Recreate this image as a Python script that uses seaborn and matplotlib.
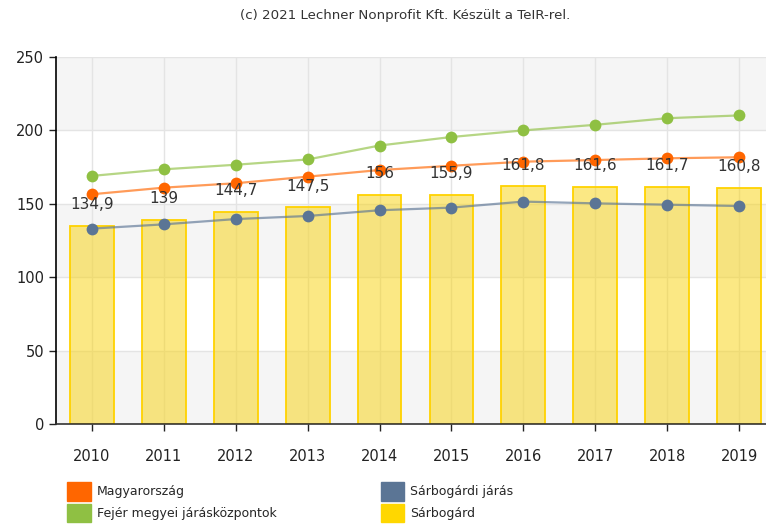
import seaborn as sns
import pandas as pd
import matplotlib.pyplot as plt
from matplotlib.colors import to_rgba
from matplotlib.patches import Patch

years = ["2010", "2011", "2012", "2013", "2014", "2015", "2016", "2017", "2018", "2019"]
sarbogard = [134.9, 139, 144.7, 147.5, 156, 155.9, 161.8, 161.6, 161.7, 160.8]
magyarorszag = [156.5, 161.0, 164.0, 168.5, 173.0, 175.9, 178.7, 179.8, 181.0, 181.7]
fejer = [169.0, 173.5, 176.6, 180.2, 189.7, 195.5, 200.0, 203.8, 208.3, 210.2]
sarbogardi_jaras = [133.1, 136.0, 139.6, 141.7, 145.6, 147.4, 151.5, 150.3, 149.4, 148.5]

series_names = ["Magyarország", "Fejér megyei járásközpontok", "Sárbogárdi járás", "Sárbogárd"]
colors = {"Magyarország": "#ff6600", "Fejér megyei járásközpontok": "#8fc043",
          "Sárbogárdi járás": "#5b7595", "Sárbogárd": "#ffd700"}


def build_frames():
    bars = pd.DataFrame({"year": years, "value": sarbogard})
    lines = pd.DataFrame({
        "pos": list(range(len(years))) * 3,
        "value": magyarorszag + fejer + sarbogardi_jaras,
        "series": (["Magyarország"] * len(years) + ["Fejér megyei járásközpontok"] * len(years)
                   + ["Sárbogárdi járás"] * len(years)),
    })
    return bars, lines


def draw(bars, lines):
    sns.set_style("white")
    plt.rcParams["font.family"] = ["DejaVu Sans"]
    fig = plt.figure(figsize=(7.66, 5.32), dpi=100)
    ax = fig.add_axes([56 / 766, 108 / 532, 710 / 766, 367 / 532])

    # alternating background bands
    for lo in (0, 100, 200):
        ax.axhspan(lo, lo + 50, color="#f5f5f5", zorder=0, lw=0)
    for y in range(50, 251, 50):
        ax.axhline(y, color="#e4e4e4", lw=1, zorder=0.5)
    for i in range(len(years)):
        ax.axvline(i, color="#e4e4e4", lw=1, zorder=0.5)

    sns.barplot(data=bars, x="year", y="value", color="#f8d414",
                saturation=1, width=0.61, linewidth=1.3, ax=ax, zorder=2)
    # translucent fill, solid yellow outline
    for p in ax.containers[0]:
        p.set_alpha(None)
        p.set_facecolor(to_rgba("#f8d414", 0.52))
        p.set_edgecolor("#ffd200")
    for p, v in zip(ax.containers[0], sarbogard):
        ax.annotate(f"{v:g}".replace(".", ","), (p.get_x() + p.get_width() / 2, p.get_height()),
                    xytext=(0, 10), textcoords="offset points", ha="center", va="bottom",
                    fontsize=11, color="#333333", zorder=5)

    for name in series_names[:3]:
        sub = lines[lines["series"] == name]
        sns.lineplot(data=sub, x="pos", y="value", color=colors[name], lw=1.6, alpha=0.65,
                     ax=ax, zorder=3)
        ax.scatter(sub["pos"], sub["value"], s=72, color=colors[name], zorder=4, lw=0)

    ax.set_xlim(-0.5, -0.5 + 710 / 71.9)
    ax.set_ylim(0, 250)
    ax.set_yticks(range(0, 251, 50))
    ax.set_xticks(range(len(years)))
    ax.set_xticklabels(years)
    ax.set_xlabel("")
    ax.set_ylabel("")
    ax.tick_params(axis="both", labelsize=10.5, colors="#222222", length=5, width=1,
                   direction="out", left=True, bottom=True)
    ax.tick_params(axis="x", pad=13)
    for s in ("top", "right"):
        ax.spines[s].set_visible(False)
    ax.spines["left"].set_color("#000000")
    ax.spines["bottom"].set_color("#333333")
    ax.spines["left"].set_linewidth(1.2)
    ax.spines["bottom"].set_linewidth(1.2)

    fig.text(405 / 766, 1 - 16 / 532, "(c) 2021 Lechner Nonprofit Kft. Készült a TeIR-rel.",
             ha="center", va="center", fontsize=9.6, color="#333333")

    handles = [Patch(facecolor=colors[n], edgecolor=colors[n]) for n in series_names]
    fig.legend(handles, series_names, ncol=2, loc="upper left",
               bbox_to_anchor=(62 / 766, 1 - 477 / 532), frameon=False, fontsize=9,
               handlelength=1.9, handleheight=1.9, handletextpad=0.5,
               columnspacing=8.3, labelspacing=0.25, borderaxespad=0)

    fig.savefig("out.png", dpi=100)
    plt.close(fig)


def main():
    bars, lines = build_frames()
    draw(bars, lines)


if __name__ == "__main__":
    main()
